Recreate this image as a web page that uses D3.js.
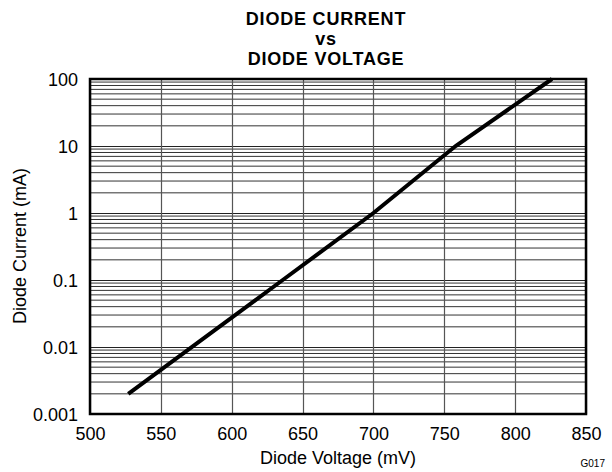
<!DOCTYPE html>
<html><head><meta charset="utf-8">
<script src="https://cdn.jsdelivr.net/npm/d3@7"></script>
<style>body{margin:0;background:#fff}svg{display:block}text{font-family:"Liberation Sans",Arial,sans-serif}</style>
</head><body><svg id="c" width="612" height="472"></svg>
<script>
const titleLines = ["DIODE CURRENT", "vs", "DIODE VOLTAGE"];
const xLabel = "Diode Voltage (mV)";
const yLabel = "Diode Current (mA)";
const xTicks = [500, 550, 600, 650, 700, 750, 800, 850];
const yTicks = [0.001, 0.01, 0.1, 1, 10, 100];
const yTickLabels = ["0.001", "0.01", "0.1", "1", "10", "100"];
const voltage = [527, 636, 700, 758, 826];
const current = [0.002, 0.1, 1, 10, 100];

const svg = d3.select("#c");
const m = {l: 90, r: 586, t: 79, b: 414};
const x = d3.scaleLinear().domain([500, 850]).range([m.l, m.r]);
const y = d3.scaleLog().domain([0.001, 100]).range([m.b, m.t]);

// minor horizontal grid
const minor = [];
for (let d = 0.001; d < 100; d *= 10) for (let k = 2; k <= 9; k++) minor.push(+(d * k).toPrecision(3));
svg.append("g").selectAll("line").data(minor).join("line")
  .attr("x1", m.l).attr("x2", m.r).attr("y1", d => y(d)).attr("y2", d => y(d))
  .attr("stroke", "#333").attr("stroke-width", 1);
svg.append("g").selectAll("line").data(yTicks).join("line")
  .attr("x1", m.l).attr("x2", m.r).attr("y1", d => Math.round(y(d)) + 0.5).attr("y2", d => Math.round(y(d)) + 0.5)
  .attr("stroke", "#222").attr("stroke-width", 1.2);
svg.append("g").selectAll("line").data(xTicks).join("line")
  .attr("y1", m.t).attr("y2", m.b).attr("x1", d => Math.round(x(d)) + 0.5).attr("x2", d => Math.round(x(d)) + 0.5)
  .attr("stroke", "#555").attr("stroke-width", 1.2);

// axes labels
const xa = svg.append("g").attr("transform", `translate(0,${m.b})`)
  .call(d3.axisBottom(x).tickValues(xTicks).tickSize(0).tickPadding(13).tickFormat(d3.format("d")));
xa.select(".domain").remove();
xa.selectAll("text").attr("font-size", 18).attr("fill", "#000").style("font-family", "Liberation Sans, Arial, sans-serif");
const ya = svg.append("g").attr("transform", `translate(${m.l},0)`)
  .call(d3.axisLeft(y).tickValues(yTicks).tickSize(0).tickPadding(12).tickFormat((d, i) => yTickLabels[i]));
ya.select(".domain").remove();
ya.selectAll("text").attr("font-size", 18).attr("fill", "#000").attr("dy", "0.36em").style("font-family", "Liberation Sans, Arial, sans-serif");

// frame
svg.append("rect").attr("x", m.l).attr("y", m.t).attr("width", m.r - m.l).attr("height", m.b - m.t)
  .attr("fill", "none").attr("stroke", "#000").attr("stroke-width", 2.5);

// curve
svg.append("path").datum(voltage.map((v, i) => [v, current[i]]))
  .attr("d", d3.line().x(d => x(d[0])).y(d => y(d[1])))
  .attr("fill", "none").attr("stroke", "#000").attr("stroke-width", 4);

// titles
svg.append("g").selectAll("text").data(titleLines).join("text")
  .attr("x", 326).attr("y", (d, i) => 25 + i * 20).attr("text-anchor", "middle")
  .attr("font-weight", "bold").attr("font-size", 18).attr("letter-spacing", 0.8).text(d => d);
svg.append("text").attr("x", 338).attr("y", 464).attr("text-anchor", "middle").attr("font-size", 18).text(xLabel);
svg.append("text").attr("transform", "translate(26,246) rotate(-90)").attr("text-anchor", "middle").attr("font-size", 18).text(yLabel);
svg.append("text").attr("x", 605).attr("y", 467).attr("text-anchor", "end").attr("font-size", 10).text("G017");
</script></body></html>
